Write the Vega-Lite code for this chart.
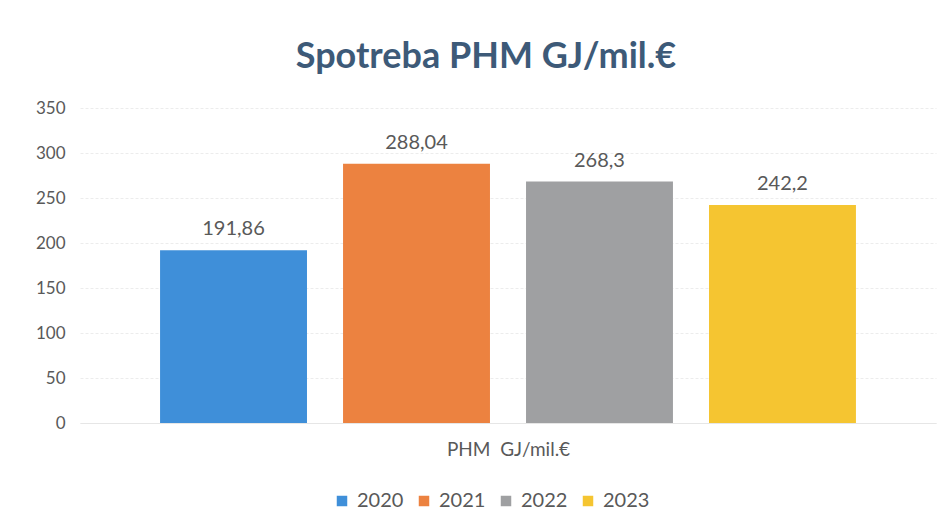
{
  "$schema": "https://vega.github.io/schema/vega-lite/v6.json",
  "autosize": "none",
  "width": 856,
  "height": 315,
  "padding": {"left": 80, "top": 108, "right": 13, "bottom": 106},
  "background": "white",
  "config": {
    "font": "Lato",
    "view": {"stroke": null}
  },
  "title": {
    "text": "Spotreba PHM GJ/mil.€",
    "fontSize": 36,
    "fontWeight": "bold",
    "color": "#3d5a78",
    "font": "Lato",
    "anchor": "middle",
    "offset": 23,
    "dx": -22
  },
  "data": {
    "values": [
      {"year": "2020", "value": 191.86, "label": "191,86"},
      {"year": "2021", "value": 288.04, "label": "288,04"},
      {"year": "2022", "value": 268.3, "label": "268,3"},
      {"year": "2023", "value": 242.2, "label": "242,2"}
    ]
  },
  "encoding": {
    "x": {
      "field": "year",
      "type": "nominal",
      "scale": {"paddingInner": 0.197, "paddingOuter": 0.4375},
      "axis": {
        "title": "PHM\u00a0 GJ/mil.€",
        "labels": false,
        "ticks": false,
        "domain": true,
        "domainColor": "#e6e6e6",
        "titleFontSize": 19,
        "titleFontWeight": "normal",
        "titleColor": "#595959",
        "titlePadding": 17
      }
    },
    "y": {
      "field": "value",
      "type": "quantitative",
      "scale": {"domain": [0, 350]},
      "axis": {
        "title": null,
        "values": [0, 50, 100, 150, 200, 250, 300, 350],
        "ticks": false,
        "domain": false,
        "labelFontSize": 17,
        "labelColor": "#595959",
        "labelPadding": 15,
        "gridColor": "#ececec",
        "gridDash": [3, 2]
      }
    }
  },
  "layer": [
    {
      "mark": {"type": "bar"},
      "encoding": {
        "color": {
          "field": "year",
          "type": "nominal",
          "scale": {"range": ["#3f8fd9", "#ec8240", "#9fa0a2", "#f5c531"]},
          "legend": {
            "title": null,
            "orient": "none",
            "direction": "horizontal",
            "legendX": 252,
            "legendY": 383,
            "symbolType": "square",
            "symbolSize": 110,
            "symbolStrokeWidth": 0,
            "labelFontSize": 20,
            "labelColor": "#595959",
            "columnPadding": 10,
            "labelOffset": 5
          }
        }
      }
    },
    {
      "mark": {"type": "text", "baseline": "bottom", "dy": -11, "fontSize": 20, "color": "#595959"},
      "encoding": {"text": {"field": "label"}}
    }
  ]
}
